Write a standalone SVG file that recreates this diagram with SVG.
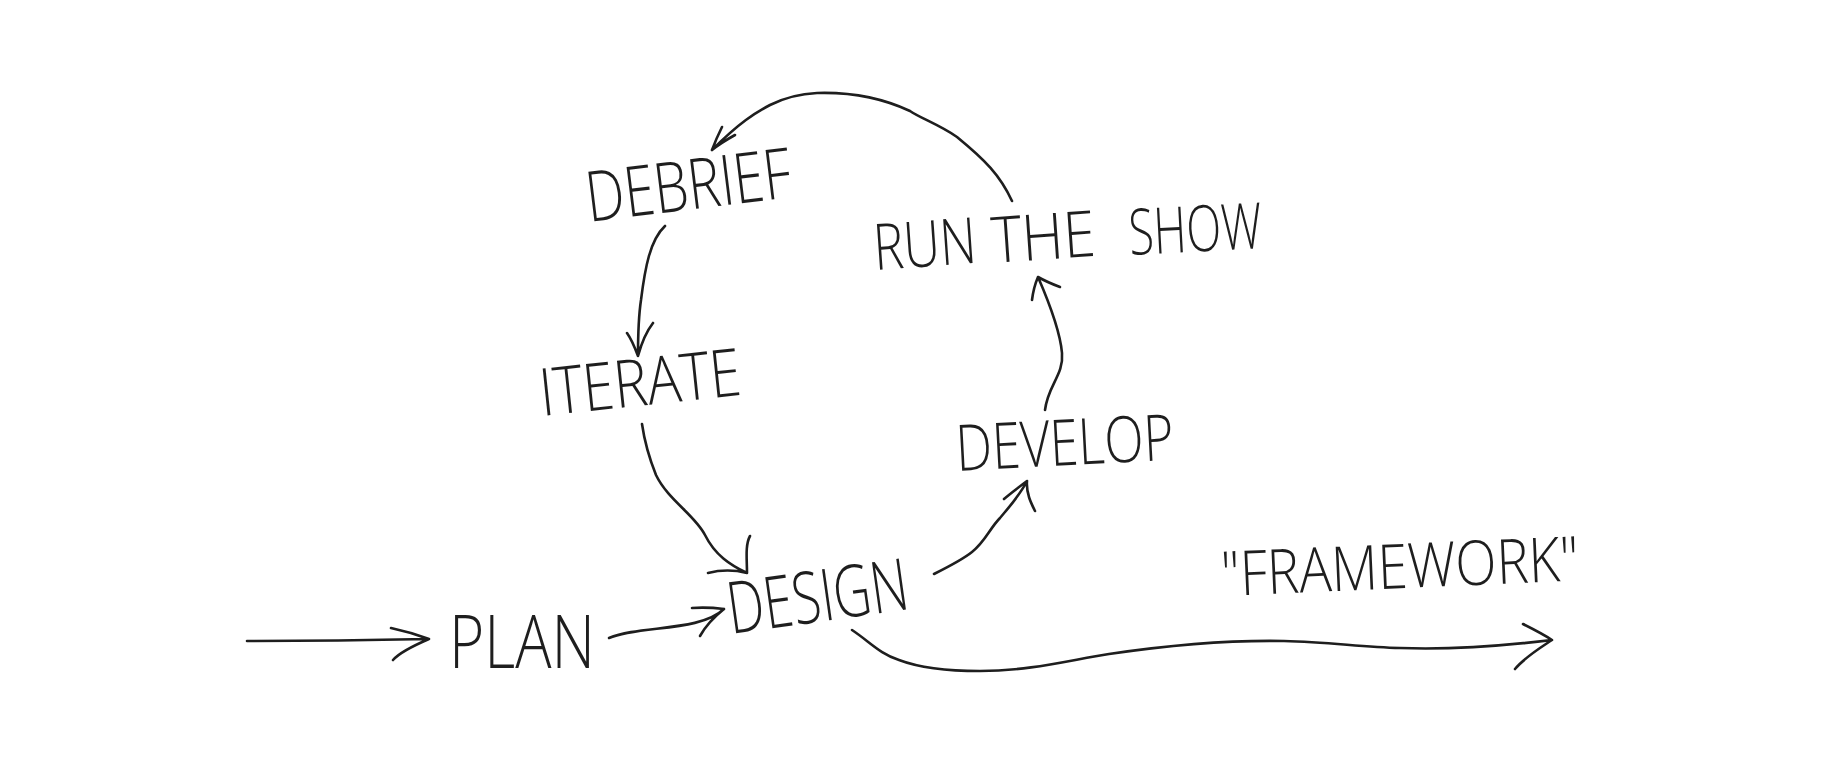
<svg xmlns="http://www.w3.org/2000/svg" width="1830" height="768" viewBox="0 0 1830 768">
<style>
.lbl{font-family:"Open Sans","Liberation Sans",sans-serif;font-weight:300;fill:#1e1e1e}
.c{fill:none;stroke:#1e1e1e;stroke-width:2.6;stroke-linecap:round;stroke-linejoin:round}
</style>
<rect width="1830" height="768" fill="#ffffff"/>
<g id="connectors">
  <path class="c" d="M247,641 C300,641 380,640 429,639 M391,628 C405,631 418,635 429,639 C415,645 400,652 393,660"/>
  <path class="c" d="M609,638 C640,625 700,632 724,609 M692,608 C705,607 716,608 724,609 C714,617 705,627 700,636"/>
  <path class="c" d="M642,424 C645,445 650,460 656,475 C668,500 695,515 705,535 C715,555 730,565 747,573 M708,573 C720,570 735,570 747,573 C747,560 745,545 750,536"/>
  <path class="c" d="M665,226 C650,240 645,268 641,300 C638,320 638,340 638,356 M627,333 C632,340 635,348 638,356 C641,345 646,332 653,323"/>
  <path class="c" d="M1012,201 C1000,175 985,160 957,137 C940,125 920,118 910,111 C880,97 850,92 817,93 C795,94 780,100 770,105 C755,113 740,122 712,150 M722,127 C718,135 715,142 712,150 C718,145 726,140 735,135"/>
  <path class="c" d="M1045,410 C1048,385 1064,375 1062,353 C1060,330 1048,300 1038,277 M1032,300 C1033,292 1035,284 1038,277 C1045,281 1052,284 1060,287"/>
  <path class="c" d="M934,574 C950,566 962,560 972,552 C985,542 990,528 1000,518 C1010,506 1020,495 1027,481 M1004,499 C1011,493 1019,487 1027,481 C1026,493 1031,503 1035,511"/>
  <path class="c" d="M852,630 C870,642 880,654 899,660 C920,668 950,671 980,671 C1030,671 1070,660 1109,654 C1170,645 1230,640 1284,641 C1330,642 1360,647 1400,648 C1450,650 1510,645 1552,640 M1523,624 C1533,629 1543,634 1552,640 C1540,648 1525,657 1515,669"/>
</g>
<g id="node-plan"><text class="lbl" x="449" y="668" font-size="74" textLength="146" lengthAdjust="spacingAndGlyphs">PLAN</text></g>
<g id="node-design"><text class="lbl" x="731" y="634" font-size="72" textLength="182" lengthAdjust="spacingAndGlyphs" transform="rotate(-8 731 634)">DESIGN</text></g>
<g id="node-iterate"><text class="lbl" x="542" y="416" font-size="66" textLength="202" lengthAdjust="spacingAndGlyphs" transform="rotate(-6 542 416)">ITERATE</text></g>
<g id="node-debrief"><text class="lbl" x="589" y="222" font-size="70" textLength="206" lengthAdjust="spacingAndGlyphs" transform="rotate(-7 589 222)">DEBRIEF</text></g>
<g id="node-run-the-show">
  <text class="lbl" x="875" y="270" font-size="64" textLength="103" lengthAdjust="spacingAndGlyphs" transform="rotate(-4 875 270)">RUN</text>
  <text class="lbl" x="993" y="263" font-size="64" textLength="104" lengthAdjust="spacingAndGlyphs" transform="rotate(-4 993 263)">THE</text>
  <text class="lbl" x="1130" y="255" font-size="64" textLength="133" lengthAdjust="spacingAndGlyphs" transform="rotate(-3 1130 255)">SHOW</text>
</g>
<g id="node-develop"><text class="lbl" x="957" y="471" font-size="64" textLength="218" lengthAdjust="spacingAndGlyphs" transform="rotate(-3 957 471)">DEVELOP</text></g>
<g id="node-framework"><text class="lbl" x="1222" y="596" font-size="62" textLength="358" lengthAdjust="spacingAndGlyphs" transform="rotate(-2.5 1222 596)">"FRAMEWORK"</text></g>
</svg>
